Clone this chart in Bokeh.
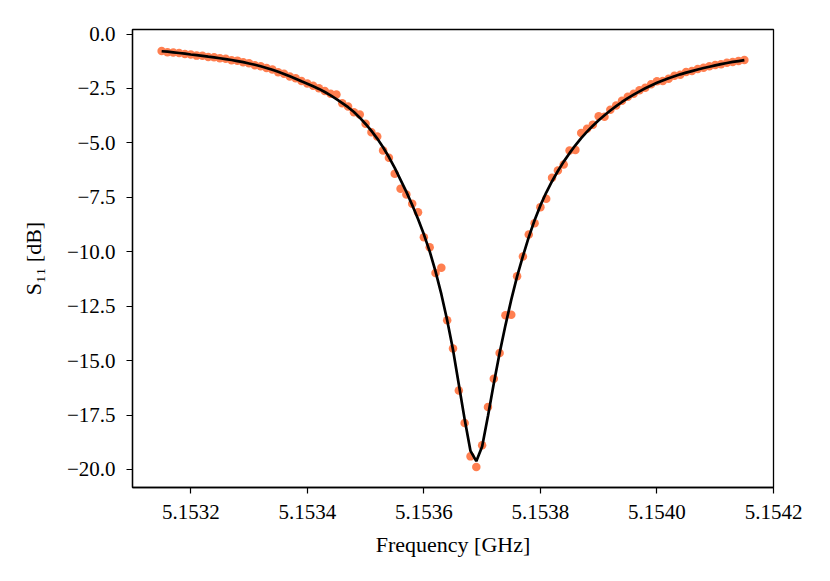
from bokeh.plotting import figure
from bokeh.models import Range1d, FixedTicker
from bokeh.embed import file_html
from bokeh.resources import INLINE

# Frequency sweep points [GHz]
freq_ghz = [
    5.15315, 5.15316, 5.15317, 5.15318, 5.15319, 5.15320, 5.15321, 5.15322, 5.15323, 5.15324,
    5.15325, 5.15326, 5.15327, 5.15328, 5.15329, 5.15330, 5.15331, 5.15332, 5.15333, 5.15334,
    5.15335, 5.15336, 5.15337, 5.15338, 5.15339, 5.15340, 5.15341, 5.15342, 5.15343, 5.15344,
    5.15345, 5.15346, 5.15347, 5.15348, 5.15349, 5.15350, 5.15351, 5.15352, 5.15353, 5.15354,
    5.15355, 5.15356, 5.15357, 5.15358, 5.15359, 5.15360, 5.15361, 5.15362, 5.15363, 5.15364,
    5.15365, 5.15366, 5.15367, 5.15368, 5.15369, 5.15370, 5.15371, 5.15372, 5.15373, 5.15374,
    5.15375, 5.15376, 5.15377, 5.15378, 5.15379, 5.15380, 5.15381, 5.15382, 5.15383, 5.15384,
    5.15385, 5.15386, 5.15387, 5.15388, 5.15389, 5.15390, 5.15391, 5.15392, 5.15393, 5.15394,
    5.15395, 5.15396, 5.15397, 5.15398, 5.15399, 5.15400, 5.15401, 5.15402, 5.15403, 5.15404,
    5.15405, 5.15406, 5.15407, 5.15408, 5.15409, 5.15410, 5.15411, 5.15412, 5.15413, 5.15414,
    5.15415,
]

# Measured S11 [dB]
s11_measured_db = [
    -0.78, -0.83, -0.85, -0.87, -0.92, -0.94, -0.99, -1.00, -1.05, -1.06,
    -1.11, -1.13, -1.20, -1.22, -1.29, -1.34, -1.43, -1.48, -1.56, -1.63,
    -1.75, -1.82, -1.95, -2.03, -2.16, -2.27, -2.37, -2.49, -2.62, -2.74,
    -2.78, -3.18, -3.33, -3.59, -3.70, -4.12, -4.51, -4.71, -5.35, -5.68,
    -6.42, -7.11, -7.37, -7.80, -8.18, -9.33, -9.79, -10.98, -10.73, -13.15,
    -14.45, -16.37, -17.87, -19.40, -19.89, -18.89, -17.13, -15.83, -14.65, -12.92,
    -12.89, -11.13, -10.22, -9.21, -8.69, -7.95, -7.57, -6.60, -6.27, -5.99,
    -5.35, -5.32, -4.55, -4.35, -4.16, -3.78, -3.80, -3.48, -3.28, -3.06,
    -2.88, -2.74, -2.58, -2.47, -2.31, -2.17, -2.16, -2.05, -1.91, -1.87,
    -1.74, -1.70, -1.60, -1.55, -1.48, -1.42, -1.39, -1.32, -1.28, -1.24,
    -1.19,
]

# Fitted S11 [dB]
s11_fit_db = [
    -0.79, -0.81, -0.84, -0.87, -0.90, -0.94, -0.97, -1.00, -1.04, -1.07,
    -1.11, -1.15, -1.19, -1.24, -1.29, -1.35, -1.41, -1.48, -1.56, -1.64,
    -1.73, -1.83, -1.94, -2.05, -2.17, -2.28, -2.40, -2.52, -2.66, -2.82,
    -2.99, -3.17, -3.36, -3.58, -3.84, -4.13, -4.45, -4.80, -5.20, -5.65,
    -6.15, -6.70, -7.25, -7.85, -8.50, -9.20, -9.98, -10.90, -11.95, -13.15,
    -14.50, -16.10, -17.70, -19.15, -19.62, -18.95, -17.55, -16.05, -14.65, -13.38,
    -12.20, -11.13, -10.20, -9.33, -8.55, -7.87, -7.28, -6.76, -6.29, -5.86,
    -5.47, -5.11, -4.78, -4.48, -4.21, -3.96, -3.73, -3.51, -3.31, -3.12,
    -2.94, -2.78, -2.63, -2.49, -2.36, -2.24, -2.13, -2.03, -1.94, -1.85,
    -1.77, -1.70, -1.63, -1.56, -1.50, -1.44, -1.38, -1.33, -1.28, -1.24,
    -1.20,
]

x_ticks = [5.1532, 5.1534, 5.1536, 5.1538, 5.1540, 5.1542]
x_tick_labels = ["5.1532", "5.1534", "5.1536", "5.1538", "5.1540", "5.1542"]
y_ticks = [0.0, -2.5, -5.0, -7.5, -10.0, -12.5, -15.0, -17.5, -20.0]
y_tick_labels = ["0.0", "\u22122.5", "\u22125.0", "\u22127.5", "\u221210.0",
                 "\u221212.5", "\u221215.0", "\u221217.5", "\u221220.0"]

FONT = "Liberation Serif"

p = figure(
    x_range=Range1d(5.1531, 5.1542),
    y_range=Range1d(-20.83, 0.21),
    frame_width=641, frame_height=458,
    min_border_left=132, min_border_right=49,
    min_border_top=29, min_border_bottom=86,
    output_backend="svg", toolbar_location=None,
    x_axis_label="Frequency [GHz]",
    y_axis_label="S\u2081\u2081 [dB]",
    background_fill_color="white", border_fill_color="white",
)
p.grid.visible = False
p.outline_line_color = "black"
p.outline_line_width = 1.3
p.outline_line_alpha = 1.0

p.xaxis.ticker = FixedTicker(ticks=x_ticks)
p.xaxis.major_label_overrides = dict(zip(x_ticks, x_tick_labels))
p.yaxis.ticker = FixedTicker(ticks=y_ticks)
p.yaxis.major_label_overrides = dict(zip(y_ticks, y_tick_labels))

for ax in (p.xaxis[0], p.yaxis[0]):
    ax.minor_tick_line_color = None
    ax.major_tick_in = 0
    ax.major_tick_out = 6
    ax.major_tick_line_width = 1.2
    ax.major_tick_line_color = "black"
    ax.axis_line_color = "black"
    ax.axis_line_width = 1.3
    ax.major_label_text_font = FONT
    ax.major_label_text_font_size = "21px"
    ax.major_label_text_color = "black"
    ax.major_label_standoff = 11
    ax.axis_label_text_font = FONT
    ax.axis_label_text_font_size = "22px"
    ax.axis_label_text_font_style = "normal"
    ax.axis_label_text_color = "black"

p.xaxis[0].axis_label_standoff = 10
p.yaxis[0].axis_label_standoff = 18

p.scatter(freq_ghz, s11_measured_db, size=8.5, color="coral", line_width=0)
p.line(freq_ghz, s11_fit_db, line_color="black", line_width=2.7)

open("out.html", "w").write(file_html(p, INLINE))
